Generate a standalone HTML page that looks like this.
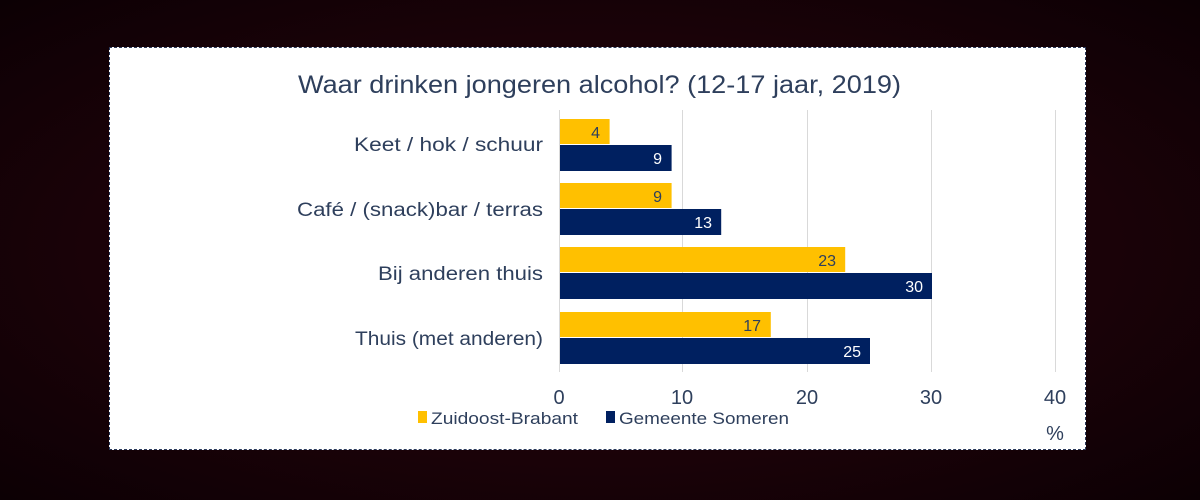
<!DOCTYPE html>
<html><head><style>
body{margin:0;width:1200px;height:500px;background:radial-gradient(ellipse at 50% 50%,#2a0614 0%,#1a0208 60%,#0c0004 100%);position:relative;overflow:hidden;font-family:"Liberation Sans",sans-serif;color:#2e3f5c}
#p{position:absolute;left:109px;top:47px;width:977px;height:403px;background:#fff;border:1px dashed #2b3a5a;box-sizing:border-box}
</style></head><body>
<div id="p"></div>
<svg width="1200" height="500" style="position:absolute;left:0;top:0" font-family="Liberation Sans, sans-serif">
<g stroke="#d9d9d9" stroke-width="1">
<line x1="682.5" y1="110" x2="682.5" y2="372"/><line x1="807.5" y1="110" x2="807.5" y2="372"/><line x1="931.5" y1="110" x2="931.5" y2="372"/><line x1="1055.5" y1="110" x2="1055.5" y2="372"/><line x1="559.5" y1="110" x2="559.5" y2="372"/>
</g>
<text x="298" y="93" font-size="25" fill="#2e3f5c" textLength="603" lengthAdjust="spacingAndGlyphs">Waar drinken jongeren alcohol? (12-17 jaar, 2019)</text>
<g font-size="19" fill="#2e3f5c">
<text x="354" y="151" textLength="189" lengthAdjust="spacingAndGlyphs">Keet / hok / schuur</text>
<text x="297" y="216" textLength="246" lengthAdjust="spacingAndGlyphs">Café / (snack)bar / terras</text>
<text x="378" y="280" textLength="165" lengthAdjust="spacingAndGlyphs">Bij anderen thuis</text>
<text x="355" y="345" textLength="188" lengthAdjust="spacingAndGlyphs">Thuis (met anderen)</text>
</g>
<g fill="#ffc000">
<rect x="560" y="119" width="49.6" height="25"/><rect x="560" y="183" width="111.6" height="25"/><rect x="560" y="247" width="285.2" height="25"/><rect x="560" y="312" width="210.8" height="25"/>
</g>
<g fill="#002060">
<rect x="560" y="145" width="111.6" height="26"/><rect x="560" y="209" width="161.2" height="26"/><rect x="560" y="273" width="372" height="26"/><rect x="560" y="338" width="310" height="26"/>
</g>
<g font-size="16" text-anchor="end">
<text x="600" y="138" fill="#2e3f5c">4</text><text x="662" y="164" fill="#fff">9</text>
<text x="662" y="202" fill="#2e3f5c">9</text><text x="712" y="228" fill="#fff">13</text>
<text x="836" y="266" fill="#2e3f5c">23</text><text x="923" y="292" fill="#fff">30</text>
<text x="761" y="331" fill="#2e3f5c">17</text><text x="861" y="357" fill="#fff">25</text>
</g>
<g font-size="20" fill="#2e3f5c" text-anchor="middle">
<text x="559" y="404">0</text><text x="682" y="404">10</text><text x="807" y="404">20</text><text x="931" y="404">30</text><text x="1055" y="404">40</text>
<text x="1055" y="440">%</text>
</g>
<rect x="418" y="411" width="9" height="12" fill="#ffc000"/>
<text x="431" y="424" font-size="17" fill="#2e3f5c" textLength="147" lengthAdjust="spacingAndGlyphs">Zuidoost-Brabant</text>
<rect x="606" y="411" width="9" height="12" fill="#002060"/>
<text x="619" y="424" font-size="17" fill="#2e3f5c" textLength="170" lengthAdjust="spacingAndGlyphs">Gemeente Someren</text>
</svg>
</body></html>
